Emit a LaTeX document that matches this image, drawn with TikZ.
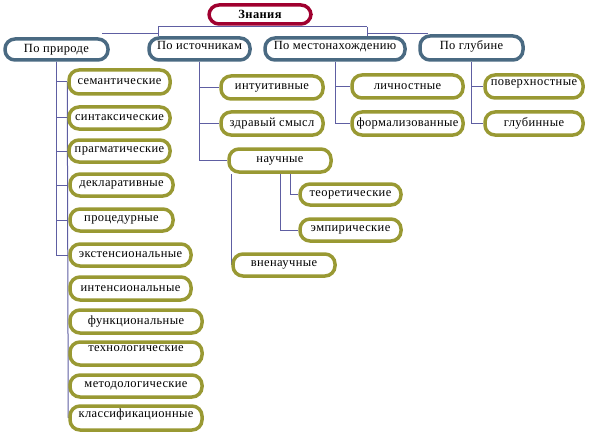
\documentclass[tikz,border=0pt]{standalone}
\usepackage{fontspec}
\setmainfont{Liberation Serif}
\newfontfamily\boxfont{Liberation Serif}[LetterSpace=3]
\usepackage{xcolor}
\definecolor{znred}{HTML}{A0002F}
\definecolor{catblue}{HTML}{4A6A82}
\definecolor{leafolive}{HTML}{999933}
\definecolor{linkblue}{HTML}{5E5EA2}
\usepackage{tikz}
\usetikzlibrary{backgrounds}

\tikzset{
  box/.style={draw, line width=3.5pt, fill=white, rounded corners=10pt,
    inner sep=0pt, font=\boxfont\fontsize{12.5}{14}\selectfont},
  rootbox/.style={box, draw=znred, font=\boxfont\fontsize{12.5}{14}\selectfont\bfseries},
  catbox/.style={box, draw=catblue},
  leafbox/.style={box, draw=leafolive},
  link/.style={draw=linkblue, line width=1pt},
}

\begin{document}
\begin{tikzpicture}[x=1pt, y=-1pt]
  \useasboundingbox (0,0) rectangle (591,433);

  % корень
  \node[rootbox, minimum width=102pt, minimum height=19pt] (zn) at (260,14.5) {Знания};

  % классификации
  \node[catbox, minimum width=103pt, minimum height=21pt] (pp) at (56.5,49.5) {По природе};
  \node[catbox, minimum width=101pt, minimum height=22pt, text depth=7pt] (pi) at (199.5,49) {По источникам};
  \node[catbox, minimum width=140pt, minimum height=22pt, text depth=7pt] (pm) at (335,49) {По местонахождению};
  \node[catbox, minimum width=103pt, minimum height=24pt, text depth=6pt] (pg) at (471.5,48) {По глубине};

  % по природе
  \node[leafbox, minimum width=101pt, minimum height=24pt] (sem) at (119.5,82) {семантические};
  \node[leafbox, minimum width=101pt, minimum height=22pt] (syn) at (119.5,118) {синтаксические};
  \node[leafbox, minimum width=101pt, minimum height=22pt] (prag) at (119.5,151) {прагматические};
  \node[leafbox, minimum width=103pt, minimum height=22pt] (dekl) at (121.5,185) {декларативные};
  \node[leafbox, minimum width=103pt, minimum height=22pt] (proc) at (121.5,220) {процедурные};
  \node[leafbox, minimum width=121pt, minimum height=22pt] (ekst) at (130.5,255) {экстенсиональные};
  \node[leafbox, minimum width=121pt, minimum height=23pt] (intens) at (130.5,288.5) {интенсиональные};
  \node[leafbox, minimum width=132pt, minimum height=23pt] (func) at (136,321.5) {функциональные};
  \node[leafbox, minimum width=132pt, minimum height=23pt, text depth=10pt] (tech) at (136,353.5) {технологические};
  \node[leafbox, minimum width=132pt, minimum height=22pt] (meth) at (136,386) {методологические};
  \node[leafbox, minimum width=132pt, minimum height=24pt, text depth=10pt] (klass) at (136,418) {классификационные};

  % по источникам
  \node[leafbox, minimum width=102pt, minimum height=23pt] (intu) at (272,87.5) {интуитивные};
  \node[leafbox, minimum width=102pt, minimum height=23pt] (zdr) at (272,123.5) {здравый смысл};
  \node[leafbox, minimum width=102pt, minimum height=23pt] (nauch) at (280,160.5) {научные};
  \node[leafbox, minimum width=101pt, minimum height=21pt] (teor) at (350.5,194.5) {теоретические};
  \node[leafbox, minimum width=101pt, minimum height=22pt] (emp) at (350.5,230) {эмпирические};
  \node[leafbox, minimum width=102pt, minimum height=22pt] (vne) at (284,265) {вненаучные};

  % по местонахождению
  \node[leafbox, minimum width=111pt, minimum height=23pt] (lich) at (407.5,86.5) {личностные};
  \node[leafbox, minimum width=111pt, minimum height=23pt] (form) at (407.5,123.5) {формализованные};

  % по глубине
  \node[leafbox, minimum width=98pt, minimum height=23pt, text depth=8pt] (pov) at (534,86.5) {поверхностные};
  \node[leafbox, minimum width=98pt, minimum height=23pt] (glub) at (534,123.5) {глубинные};

  \begin{scope}[on background layer]
    % верхняя шина
    \coordinate (busL) at (158,27);
    \coordinate (busR) at (367,27);
    \draw[link] (busL) -- (busR);
    \draw[link] ([xshift=-30pt]zn.south) -- ([xshift=-30pt]zn.south |- busL);
    \draw[link] ([xshift=38pt]zn.south) -- ([xshift=38pt]zn.south |- busL);
    \draw[link] (busL) -- (busL |- pi.north);
    \draw[link] (busR) -- (busR |- pm.north);
    \draw[link] (busL) |- ([xshift=-8pt,yshift=4pt]pp.north east);
    \draw[link] (busR) |- ([xshift=10pt,yshift=1pt]pg.north west);

    % ветви
    \foreach \c in {sem,syn,prag,dekl,proc,ekst}
      \draw[link] (pp.south) |- (\c.west);
    \draw[link] (sem.west) -- (klass.west);
    \foreach \c in {intu,zdr,nauch}
      \draw[link] (pi.south) |- (\c.west);
    \draw[link] ([xshift=10pt]nauch.south) |- (teor.west);
    \draw[link] (nauch.south) |- (emp.west);
    \draw[link] (vne.west) -- (vne.west |- nauch.south);
    \foreach \c in {lich,form}
      \draw[link] (pm.south) |- (\c.west);
    \foreach \c in {pov,glub}
      \draw[link] (pg.south) |- (\c.west);
  \end{scope}
\end{tikzpicture}
\end{document}
